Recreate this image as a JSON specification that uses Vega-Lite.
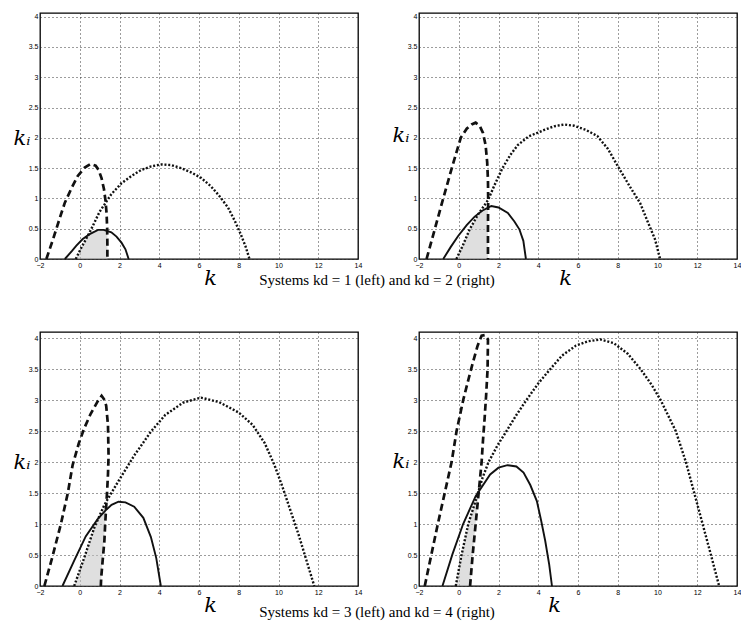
{
  "$schema": "https://vega.github.io/schema/vega-lite/v6.json",
  "background": "white",
  "padding": {"left": 12, "top": 11, "right": 2, "bottom": 2},
  "config": {
    "view": {"stroke": "black", "strokeWidth": 1.3},
    "axis": {
      "grid": true, "gridColor": "#222", "gridDash": [1, 3], "gridWidth": 0.9,
      "domain": false, "ticks": false,
      "labelFont": "Liberation Sans", "labelFontSize": 7, "labelColor": "black", "labelPadding": 2,
      "titleFont": "DejaVu Serif", "titleFontStyle": "italic", "titleFontWeight": "normal", "titleFontSize": 21, "titleColor": "black"
    },
    "title": {"font": "Liberation Serif", "fontSize": 15, "fontWeight": "normal", "color": "black"},
    "concat": {"spacing": 28}
  },
  "datasets": {
    "p1": [
      {"s":"dashed","k":-1.68,"ki":0},{"s":"dashed","k":-1.34,"ki":0.33},{"s":"dashed","k":-1.0,"ki":0.68},{"s":"dashed","k":-0.75,"ki":0.93},{"s":"dashed","k":-0.4,"ki":1.18},{"s":"dashed","k":-0.1,"ki":1.37},{"s":"dashed","k":0.25,"ki":1.51},{"s":"dashed","k":0.55,"ki":1.57},{"s":"dashed","k":0.8,"ki":1.54},{"s":"dashed","k":0.95,"ki":1.47},{"s":"dashed","k":1.1,"ki":1.33},{"s":"dashed","k":1.22,"ki":1.15},{"s":"dashed","k":1.3,"ki":0.95},{"s":"dashed","k":1.35,"ki":0.75},{"s":"dashed","k":1.38,"ki":0.5},{"s":"dashed","k":1.39,"ki":0.25},{"s":"dashed","k":1.39,"ki":0},
      {"s":"dotted","k":-0.2,"ki":0},{"s":"dotted","k":0.1,"ki":0.2},{"s":"dotted","k":0.5,"ki":0.44},{"s":"dotted","k":1.0,"ki":0.78},{"s":"dotted","k":1.59,"ki":1.07},{"s":"dotted","k":2.1,"ki":1.25},{"s":"dotted","k":2.6,"ki":1.37},{"s":"dotted","k":3.1,"ki":1.47},{"s":"dotted","k":3.6,"ki":1.53},{"s":"dotted","k":4.1,"ki":1.56},{"s":"dotted","k":4.6,"ki":1.55},{"s":"dotted","k":5.1,"ki":1.5},{"s":"dotted","k":5.6,"ki":1.43},{"s":"dotted","k":6.1,"ki":1.34},{"s":"dotted","k":6.6,"ki":1.2},{"s":"dotted","k":7.0,"ki":1.05},{"s":"dotted","k":7.46,"ki":0.85},{"s":"dotted","k":7.8,"ki":0.63},{"s":"dotted","k":8.1,"ki":0.41},{"s":"dotted","k":8.35,"ki":0.2},{"s":"dotted","k":8.54,"ki":0},
      {"s":"solid","k":-0.75,"ki":0},{"s":"solid","k":-0.4,"ki":0.13},{"s":"solid","k":-0.17,"ki":0.22},{"s":"solid","k":0.15,"ki":0.33},{"s":"solid","k":0.5,"ki":0.41},{"s":"solid","k":0.92,"ki":0.48},{"s":"solid","k":1.2,"ki":0.48},{"s":"solid","k":1.59,"ki":0.44},{"s":"solid","k":1.85,"ki":0.37},{"s":"solid","k":2.1,"ki":0.27},{"s":"solid","k":2.3,"ki":0.16},{"s":"solid","k":2.46,"ki":0},
      {"s":"shade","ki":0,"k":-0.2,"k2":1.39},{"s":"shade","ki":0.2,"k":0.1,"k2":1.39},{"s":"shade","ki":0.41,"k":0.45,"k2":1.39},{"s":"shade","ki":0.46,"k":0.7,"k2":1.39},{"s":"shade","ki":0.48,"k":0.95,"k2":1.3}
    ],
    "p2": [
      {"s":"dashed","k":-1.62,"ki":0},{"s":"dashed","k":-1.2,"ki":0.5},{"s":"dashed","k":-0.78,"ki":1.0},{"s":"dashed","k":-0.35,"ki":1.5},{"s":"dashed","k":0.1,"ki":2.0},{"s":"dashed","k":0.4,"ki":2.15},{"s":"dashed","k":0.65,"ki":2.22},{"s":"dashed","k":0.85,"ki":2.25},{"s":"dashed","k":1.05,"ki":2.2},{"s":"dashed","k":1.22,"ki":2.08},{"s":"dashed","k":1.35,"ki":1.88},{"s":"dashed","k":1.43,"ki":1.6},{"s":"dashed","k":1.47,"ki":1.3},{"s":"dashed","k":1.48,"ki":1.0},{"s":"dashed","k":1.47,"ki":0.5},{"s":"dashed","k":1.47,"ki":0},
      {"s":"dotted","k":-0.12,"ki":0},{"s":"dotted","k":0.2,"ki":0.22},{"s":"dotted","k":0.55,"ki":0.49},{"s":"dotted","k":1.0,"ki":0.75},{"s":"dotted","k":1.47,"ki":0.97},{"s":"dotted","k":1.8,"ki":1.22},{"s":"dotted","k":2.2,"ki":1.5},{"s":"dotted","k":2.6,"ki":1.72},{"s":"dotted","k":2.97,"ki":1.88},{"s":"dotted","k":3.5,"ki":2.02},{"s":"dotted","k":4.3,"ki":2.13},{"s":"dotted","k":4.8,"ki":2.19},{"s":"dotted","k":5.3,"ki":2.22},{"s":"dotted","k":5.8,"ki":2.2},{"s":"dotted","k":6.4,"ki":2.13},{"s":"dotted","k":6.97,"ki":2.03},{"s":"dotted","k":7.5,"ki":1.82},{"s":"dotted","k":8.13,"ki":1.46},{"s":"dotted","k":8.6,"ki":1.2},{"s":"dotted","k":9.13,"ki":0.92},{"s":"dotted","k":9.5,"ki":0.62},{"s":"dotted","k":9.88,"ki":0.32},{"s":"dotted","k":10.13,"ki":0},
      {"s":"solid","k":-0.78,"ki":0},{"s":"solid","k":-0.4,"ki":0.2},{"s":"solid","k":-0.03,"ki":0.38},{"s":"solid","k":0.4,"ki":0.56},{"s":"solid","k":0.8,"ki":0.7},{"s":"solid","k":1.2,"ki":0.8},{"s":"solid","k":1.64,"ki":0.875},{"s":"solid","k":2.0,"ki":0.85},{"s":"solid","k":2.47,"ki":0.76},{"s":"solid","k":2.8,"ki":0.62},{"s":"solid","k":3.05,"ki":0.49},{"s":"solid","k":3.25,"ki":0.3},{"s":"solid","k":3.38,"ki":0},
      {"s":"shade","ki":0,"k":-0.12,"k2":1.47},{"s":"shade","ki":0.49,"k":0.55,"k2":1.47},{"s":"shade","ki":0.7,"k":0.95,"k2":1.47},{"s":"shade","ki":0.85,"k":1.35,"k2":1.47}
    ],
    "p3": [
      {"s":"dashed","k":-1.78,"ki":0},{"s":"dashed","k":-1.36,"ki":0.49},{"s":"dashed","k":-0.95,"ki":1.0},{"s":"dashed","k":-0.6,"ki":1.5},{"s":"dashed","k":-0.36,"ki":1.95},{"s":"dashed","k":-0.05,"ki":2.3},{"s":"dashed","k":0.23,"ki":2.55},{"s":"dashed","k":0.55,"ki":2.78},{"s":"dashed","k":0.9,"ki":2.98},{"s":"dashed","k":1.1,"ki":3.07},{"s":"dashed","k":1.25,"ki":3.0},{"s":"dashed","k":1.33,"ki":2.91},{"s":"dashed","k":1.42,"ki":2.6},{"s":"dashed","k":1.45,"ki":2.1},{"s":"dashed","k":1.42,"ki":1.8},{"s":"dashed","k":1.38,"ki":1.55},{"s":"dashed","k":1.33,"ki":1.28},{"s":"dashed","k":1.28,"ki":1.0},{"s":"dashed","k":1.24,"ki":0.73},{"s":"dashed","k":1.15,"ki":0.4},{"s":"dashed","k":1.08,"ki":0.14},{"s":"dashed","k":1.06,"ki":0},
      {"s":"dotted","k":-0.28,"ki":0},{"s":"dotted","k":0.23,"ki":0.46},{"s":"dotted","k":0.74,"ki":0.95},{"s":"dotted","k":1.24,"ki":1.31},{"s":"dotted","k":1.92,"ki":1.68},{"s":"dotted","k":2.77,"ki":2.12},{"s":"dotted","k":3.6,"ki":2.5},{"s":"dotted","k":4.3,"ki":2.76},{"s":"dotted","k":5.2,"ki":2.96},{"s":"dotted","k":6.1,"ki":3.04},{"s":"dotted","k":7.0,"ki":2.97},{"s":"dotted","k":8.0,"ki":2.8},{"s":"dotted","k":8.7,"ki":2.6},{"s":"dotted","k":9.3,"ki":2.31},{"s":"dotted","k":9.8,"ki":1.95},{"s":"dotted","k":10.2,"ki":1.6},{"s":"dotted","k":10.6,"ki":1.22},{"s":"dotted","k":11.0,"ki":0.84},{"s":"dotted","k":11.4,"ki":0.42},{"s":"dotted","k":11.8,"ki":0},
      {"s":"solid","k":-0.87,"ki":0},{"s":"solid","k":-0.28,"ki":0.41},{"s":"solid","k":0.3,"ki":0.8},{"s":"solid","k":0.9,"ki":1.08},{"s":"solid","k":1.3,"ki":1.22},{"s":"solid","k":1.6,"ki":1.31},{"s":"solid","k":1.95,"ki":1.36},{"s":"solid","k":2.3,"ki":1.35},{"s":"solid","k":2.74,"ki":1.28},{"s":"solid","k":3.2,"ki":1.1},{"s":"solid","k":3.58,"ki":0.79},{"s":"solid","k":3.85,"ki":0.45},{"s":"solid","k":4.08,"ki":0},
      {"s":"shade","ki":0,"k":-0.28,"k2":1.06},{"s":"shade","ki":0.46,"k":0.23,"k2":1.15},{"s":"shade","ki":0.95,"k":0.74,"k2":1.27},{"s":"shade","ki":1.2,"k":1.12,"k2":1.32},{"s":"shade","ki":1.3,"k":1.3,"k2":1.33}
    ],
    "p4": [
      {"s":"dashed","k":-1.71,"ki":0},{"s":"dashed","k":-1.37,"ki":0.52},{"s":"dashed","k":-1.04,"ki":1.02},{"s":"dashed","k":-0.7,"ki":1.51},{"s":"dashed","k":-0.36,"ki":2.0},{"s":"dashed","k":-0.11,"ki":2.5},{"s":"dashed","k":0.23,"ki":3.01},{"s":"dashed","k":0.5,"ki":3.35},{"s":"dashed","k":0.73,"ki":3.63},{"s":"dashed","k":0.95,"ki":3.88},{"s":"dashed","k":1.15,"ki":4.04},{"s":"dashed","k":1.32,"ki":4.05},{"s":"dashed","k":1.47,"ki":3.98},{"s":"dashed","k":1.45,"ki":3.5},{"s":"dashed","k":1.38,"ki":3.09},{"s":"dashed","k":1.3,"ki":2.7},{"s":"dashed","k":1.22,"ki":2.35},{"s":"dashed","k":1.15,"ki":2.0},{"s":"dashed","k":1.0,"ki":1.5},{"s":"dashed","k":0.85,"ki":1.0},{"s":"dashed","k":0.7,"ki":0.5},{"s":"dashed","k":0.57,"ki":0},
      {"s":"dotted","k":-0.15,"ki":0},{"s":"dotted","k":0.14,"ki":0.5},{"s":"dotted","k":0.48,"ki":1.0},{"s":"dotted","k":0.9,"ki":1.43},{"s":"dotted","k":1.2,"ki":1.75},{"s":"dotted","k":1.5,"ki":2.0},{"s":"dotted","k":1.95,"ki":2.27},{"s":"dotted","k":2.4,"ki":2.5},{"s":"dotted","k":2.9,"ki":2.76},{"s":"dotted","k":3.4,"ki":3.0},{"s":"dotted","k":4.0,"ki":3.27},{"s":"dotted","k":4.6,"ki":3.5},{"s":"dotted","k":5.2,"ki":3.72},{"s":"dotted","k":5.9,"ki":3.88},{"s":"dotted","k":6.5,"ki":3.95},{"s":"dotted","k":7.13,"ki":3.98},{"s":"dotted","k":7.8,"ki":3.92},{"s":"dotted","k":8.5,"ki":3.75},{"s":"dotted","k":9.15,"ki":3.5},{"s":"dotted","k":9.7,"ki":3.25},{"s":"dotted","k":10.16,"ki":3.0},{"s":"dotted","k":10.92,"ki":2.5},{"s":"dotted","k":11.43,"ki":2.0},{"s":"dotted","k":11.85,"ki":1.5},{"s":"dotted","k":12.27,"ki":1.0},{"s":"dotted","k":12.69,"ki":0.5},{"s":"dotted","k":13.1,"ki":0},
      {"s":"solid","k":-0.82,"ki":0},{"s":"solid","k":-0.32,"ki":0.51},{"s":"solid","k":0.22,"ki":1.0},{"s":"solid","k":0.85,"ki":1.45},{"s":"solid","k":1.58,"ki":1.8},{"s":"solid","k":2.0,"ki":1.91},{"s":"solid","k":2.45,"ki":1.95},{"s":"solid","k":2.9,"ki":1.93},{"s":"solid","k":3.26,"ki":1.83},{"s":"solid","k":3.6,"ki":1.63},{"s":"solid","k":3.93,"ki":1.37},{"s":"solid","k":4.15,"ki":1.05},{"s":"solid","k":4.35,"ki":0.73},{"s":"solid","k":4.55,"ki":0.35},{"s":"solid","k":4.69,"ki":0},
      {"s":"shade","ki":0,"k":-0.15,"k2":0.57},{"s":"shade","ki":0.5,"k":0.14,"k2":0.7},{"s":"shade","ki":1.0,"k":0.48,"k2":0.85},{"s":"shade","ki":1.43,"k":0.9,"k2":0.98}
    ]
  },
  "vconcat": [
    {
      "title": {"text": "Systems kd = 1 (left) and kd = 2 (right)", "orient": "bottom", "offset": -16, "anchor": "middle"},
      "hconcat": [
        {
          "width": 318, "height": 246,
          "data": {"name": "p1"},
          "encoding": {
            "x": {"field": "k", "type": "quantitative", "scale": {"domain": [-2, 14], "nice": false, "zero": false},
                  "axis": {"values": [-2,0,2,4,6,8,10,12,14], "format": "~g", "labelFlush": false, "title": "k", "titleX": 170, "titleY": 25, "titleBaseline": "alphabetic", "titleAlign": "center"}},
            "y": {"field": "ki", "type": "quantitative", "scale": {"domain": [0, 4.06], "nice": false},
                  "axis": {"values": [0,0.5,1,1.5,2,2.5,3,3.5,4], "format": "~g", "title": "kᵢ", "titleAngle": 0, "titleX": -10, "titleY": 125, "titleAlign": "right", "titleBaseline": "middle"}}
          },
          "layer": [
            {"transform": [{"filter": "datum.s === 'shade'"}], "mark": {"type": "area", "orient": "horizontal", "color": "#c4c4c4", "opacity": 0.55}, "encoding": {"x2": {"field": "k2"}}},
            {"transform": [{"filter": "datum.s === 'dotted'"}], "mark": {"type": "line", "color": "#111", "strokeWidth": 2.4, "strokeDash": [2, 1.8]}, "encoding": {"order": {"value": null}}},
            {"transform": [{"filter": "datum.s === 'dashed'"}], "mark": {"type": "line", "color": "#111", "strokeWidth": 2.7, "strokeDash": [7, 4]}, "encoding": {"order": {"value": null}}},
            {"transform": [{"filter": "datum.s === 'solid'"}], "mark": {"type": "line", "color": "#111", "strokeWidth": 1.9}, "encoding": {"order": {"value": null}}}
          ]
        },
        {
          "width": 318, "height": 246,
          "data": {"name": "p2"},
          "encoding": {
            "x": {"field": "k", "type": "quantitative", "scale": {"domain": [-2, 14], "nice": false, "zero": false},
                  "axis": {"values": [-2,0,2,4,6,8,10,12,14], "format": "~g", "labelFlush": false, "title": "k", "titleX": 146, "titleY": 25, "titleBaseline": "alphabetic", "titleAlign": "center"}},
            "y": {"field": "ki", "type": "quantitative", "scale": {"domain": [0, 4.06], "nice": false},
                  "axis": {"values": [0,0.5,1,1.5,2,2.5,3,3.5,4], "format": "~g", "title": "kᵢ", "titleAngle": 0, "titleX": -10, "titleY": 122, "titleAlign": "right", "titleBaseline": "middle"}}
          },
          "layer": [
            {"transform": [{"filter": "datum.s === 'shade'"}], "mark": {"type": "area", "orient": "horizontal", "color": "#c4c4c4", "opacity": 0.55}, "encoding": {"x2": {"field": "k2"}}},
            {"transform": [{"filter": "datum.s === 'dotted'"}], "mark": {"type": "line", "color": "#111", "strokeWidth": 2.4, "strokeDash": [2, 1.8]}, "encoding": {"order": {"value": null}}},
            {"transform": [{"filter": "datum.s === 'dashed'"}], "mark": {"type": "line", "color": "#111", "strokeWidth": 2.7, "strokeDash": [7, 4]}, "encoding": {"order": {"value": null}}},
            {"transform": [{"filter": "datum.s === 'solid'"}], "mark": {"type": "line", "color": "#111", "strokeWidth": 1.9}, "encoding": {"order": {"value": null}}}
          ]
        }
      ]
    },
    {
      "title": {"text": "Systems kd = 3 (left) and kd = 4 (right)", "orient": "bottom", "offset": -11, "anchor": "middle"},
      "hconcat": [
        {
          "width": 318, "height": 254,
          "data": {"name": "p3"},
          "encoding": {
            "x": {"field": "k", "type": "quantitative", "scale": {"domain": [-2, 14], "nice": false, "zero": false},
                  "axis": {"values": [-2,0,2,4,6,8,10,12,14], "format": "~g", "labelFlush": false, "title": "k", "titleX": 170, "titleY": 25, "titleBaseline": "alphabetic", "titleAlign": "center"}},
            "y": {"field": "ki", "type": "quantitative", "scale": {"domain": [0, 4.1], "nice": false},
                  "axis": {"values": [0,0.5,1,1.5,2,2.5,3,3.5,4], "format": "~g", "title": "kᵢ", "titleAngle": 0, "titleX": -10, "titleY": 130, "titleAlign": "right", "titleBaseline": "middle"}}
          },
          "layer": [
            {"transform": [{"filter": "datum.s === 'shade'"}], "mark": {"type": "area", "orient": "horizontal", "color": "#c4c4c4", "opacity": 0.55}, "encoding": {"x2": {"field": "k2"}}},
            {"transform": [{"filter": "datum.s === 'dotted'"}], "mark": {"type": "line", "color": "#111", "strokeWidth": 2.4, "strokeDash": [2, 1.8]}, "encoding": {"order": {"value": null}}},
            {"transform": [{"filter": "datum.s === 'dashed'"}], "mark": {"type": "line", "color": "#111", "strokeWidth": 2.7, "strokeDash": [7, 4]}, "encoding": {"order": {"value": null}}},
            {"transform": [{"filter": "datum.s === 'solid'"}], "mark": {"type": "line", "color": "#111", "strokeWidth": 1.9}, "encoding": {"order": {"value": null}}}
          ]
        },
        {
          "width": 318, "height": 254,
          "data": {"name": "p4"},
          "encoding": {
            "x": {"field": "k", "type": "quantitative", "scale": {"domain": [-2, 14], "nice": false, "zero": false},
                  "axis": {"values": [-2,0,2,4,6,8,10,12,14], "format": "~g", "labelFlush": false, "title": "k", "titleX": 135, "titleY": 25, "titleBaseline": "alphabetic", "titleAlign": "center"}},
            "y": {"field": "ki", "type": "quantitative", "scale": {"domain": [0, 4.1], "nice": false},
                  "axis": {"values": [0,0.5,1,1.5,2,2.5,3,3.5,4], "format": "~g", "title": "kᵢ", "titleAngle": 0, "titleX": -10, "titleY": 129, "titleAlign": "right", "titleBaseline": "middle"}}
          },
          "layer": [
            {"transform": [{"filter": "datum.s === 'shade'"}], "mark": {"type": "area", "orient": "horizontal", "color": "#c4c4c4", "opacity": 0.55}, "encoding": {"x2": {"field": "k2"}}},
            {"transform": [{"filter": "datum.s === 'dotted'"}], "mark": {"type": "line", "color": "#111", "strokeWidth": 2.4, "strokeDash": [2, 1.8]}, "encoding": {"order": {"value": null}}},
            {"transform": [{"filter": "datum.s === 'dashed'"}], "mark": {"type": "line", "color": "#111", "strokeWidth": 2.7, "strokeDash": [7, 4]}, "encoding": {"order": {"value": null}}},
            {"transform": [{"filter": "datum.s === 'solid'"}], "mark": {"type": "line", "color": "#111", "strokeWidth": 1.9}, "encoding": {"order": {"value": null}}}
          ]
        }
      ]
    }
  ],
  "spacing": 40
}
